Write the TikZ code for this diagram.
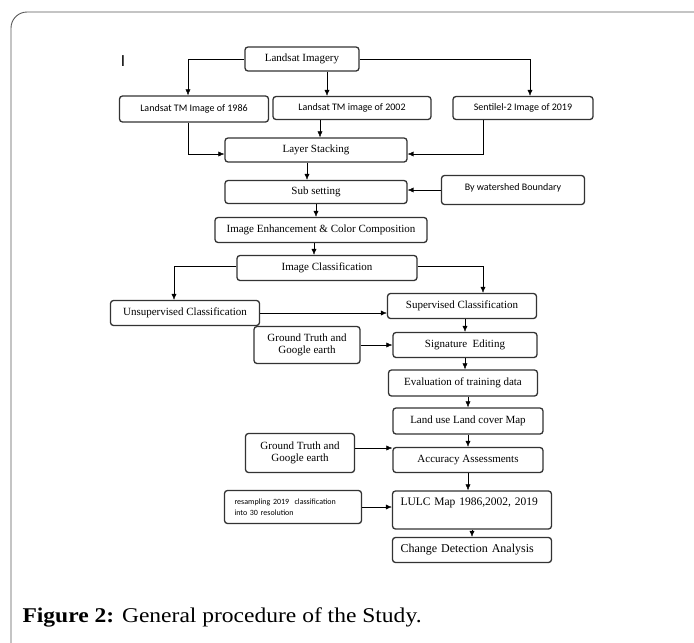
\documentclass[tikz,border=0pt]{standalone}
\usepackage{fontspec}
\setmainfont{Liberation Serif}
\newfontfamily\calib{Carlito}
\newfontfamily\capfont[FakeStretch=1.12]{Liberation Serif}
\usetikzlibrary{arrows.meta}
\tikzset{>={Latex[length=6pt,width=5pt]}, line width=1.2pt}
\tikzset{
  stepbox/.style={draw=black!80,rounded corners=3pt,inner sep=2pt,line width=1.3pt,
    font=\fontsize{11}{12}\selectfont},
  sansbox/.style={stepbox,font=\calib\fontsize{10}{12}\selectfont},
  leftbox/.style={stepbox,inner xsep=6pt,align=left},
}

\begin{document}
\begin{tikzpicture}[x=1pt,y=-1pt]
  \useasboundingbox (0,0) rectangle (694,643);

  % outer frame
  \begin{scope}
    \clip (0,0) rectangle (694,643);
    \draw[black!65,line width=0.9pt,rounded corners=16pt] (11,12) rectangle (720,670);
  \end{scope}
  \node[font=\calib\fontsize{17}{17}\selectfont] (mark) at (123,61) {I};

  % imagery
  \node[stepbox,minimum width=114,minimum height=24] (land) at (302,59) {Landsat Imagery};
  \node[sansbox,minimum width=149,minimum height=26] (tm86) at (194,109) {Landsat TM Image of 1986};
  \node[sansbox,minimum width=158,minimum height=23] (tm02) at (352,108) {Landsat TM image of 2002};
  \node[sansbox,minimum width=140,minimum height=23] (s2) at (523,108) {Sentilel-2 Image of 2019};

  % preprocessing
  \node[stepbox,minimum width=182,minimum height=24] (stack) at (316,150) {Layer Stacking};
  \node[stepbox,minimum width=182,minimum height=23] (sub) at (316,192) {Sub setting};
  \node[sansbox,minimum width=143,minimum height=29,text depth=6pt] (shed) at (513,190) {By watershed Boundary};
  \node[stepbox,minimum width=212,minimum height=25] (enh) at (321,230) {Image Enhancement \& Color Composition};

  % classification
  \node[stepbox,minimum width=180,minimum height=25] (cls) at (327,268) {Image Classification};
  \node[stepbox,minimum width=149,minimum height=25] (unsup) at (185,313) {Unsupervised Classification};
  \node[stepbox,minimum width=149,minimum height=25] (sup) at (462,306) {Supervised Classification};
  \node[stepbox,minimum width=106,minimum height=37,align=center] (gt1) at (307,345) {Ground Truth and\\Google earth};
  \node[stepbox,minimum width=144,minimum height=25] (sig) at (465,345) {Signature\ \ Editing};
  \node[stepbox,minimum width=149,minimum height=26] (eval) at (463,383) {Evaluation of training data};
  \node[stepbox,minimum width=150,minimum height=26] (lu) at (468,421) {Land use Land cover Map};

  % accuracy and results
  \node[stepbox,minimum width=109,minimum height=39,align=center] (gt2) at (300,453) {Ground Truth and\\Google earth};
  \node[stepbox,minimum width=150,minimum height=25] (acc) at (468,460) {Accuracy Assessments};
  \node[leftbox,inner xsep=10pt,text width=117,minimum height=33,font=\calib\fontsize{8}{11}\selectfont] (res) at (293,507)
    {resampling 2019\ \ classification\\into 30 resolution};
  \node[leftbox,inner xsep=8pt,text width=143,minimum height=38,text depth=17pt,font=\fontsize{11.5}{14}\selectfont] (map) at (472,510)
    {\mbox{LULC Map 1986,2002, 2019}};
  \node[leftbox,inner xsep=8pt,text width=143,minimum height=25,font=\fontsize{12}{13}\selectfont] (cd) at (472,550)
    {Change Detection Analysis};

  % caption
  \node[anchor=base west,font=\capfont\fontsize{21}{24}\selectfont] (cap) at (19,622)
    {\textbf{Figure 2:} General procedure of the Study.};

  % arrows from imagery
  \draw[->] (land.west) -| ([xshift=-6]tm86.north);
  \draw[->] ([xshift=25]land.south) -- ([xshift=25]land.south |- tm02.north);
  \draw[->] (land.east) -| ([xshift=7]s2.north);
  \draw[->] ([xshift=-6]tm86.south) |- ([yshift=-4]stack.west);
  \draw[->] ([xshift=4]stack.north |- tm02.south) -- ([xshift=4]stack.north);
  \draw[->] ([xshift=-40]s2.south) |- ([yshift=-4]stack.east);

  % preprocessing chain
  \draw[->] ([xshift=-9]stack.south) -- ([xshift=-9]sub.north);
  \draw[->] (shed.west) -- (shed.west -| sub.east);
  \draw[->] (sub.south) -- (sub.south |- enh.north);
  \draw[->] ([xshift=-7]enh.south) -- ([xshift=-7]enh.south |- cls.north);

  % classification branches
  \draw[->] ([yshift=2]cls.west) -| ([xshift=-11]unsup.north);
  \draw[->] ([yshift=2]cls.east) -| ([xshift=21]sup.north);
  \draw[->] (unsup.east) -- (unsup.east -| sup.west);
  \draw[->] (sig.north |- sup.south) -- (sig.north);
  \draw[->] (gt1.east) -- (gt1.east -| sig.west);
  \draw[->] (sig.south) -- (sig.south |- eval.north);
  \draw[->] (eval.south -| lu.north) -- (lu.north);
  \draw[->] (lu.south) -- (lu.south |- acc.north);
  \draw[->] ([yshift=5]gt2.east) -- ([yshift=5]gt2.east -| acc.west);
  \draw[->] (acc.south) -- (acc.south |- map.north);
  \draw[->] (res.east) -- (res.east -| map.west);
  \draw[->] (map.south) -- (map.south |- cd.north);
\end{tikzpicture}
\end{document}
